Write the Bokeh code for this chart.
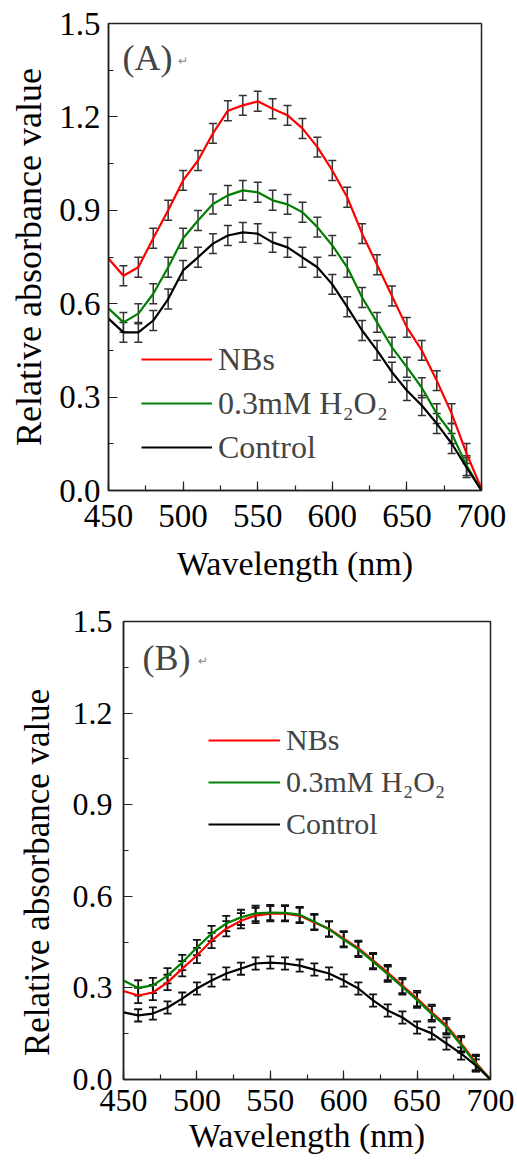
from bokeh.plotting import figure
from bokeh.models import (ColumnDataSource, Whisker, TeeHead, Label, Legend, LegendItem,
                          SingleIntervalTicker, PrintfTickFormatter)
from bokeh.embed import file_html
from bokeh.resources import INLINE

FONT = "Liberation Serif"

# ---------------- data ----------------
wavelength = [450, 460, 470, 480, 490, 500, 510, 520, 530, 540, 550, 560, 570,
              580, 590, 600, 610, 620, 630, 640, 650, 660, 670, 680, 690, 700]
err_wavelength = [460, 470, 480, 490, 500, 510, 520, 530, 540, 550, 560, 570, 580,
                  590, 600, 610, 620, 630, 640, 650, 660, 670, 680, 690]

# Panel A
a_nbs = [0.745, 0.690, 0.717, 0.810, 0.900, 0.996, 1.060, 1.147, 1.220, 1.237, 1.250, 1.226, 1.205,
         1.163, 1.103, 1.028, 0.942, 0.825, 0.725, 0.625, 0.524, 0.450, 0.353, 0.247, 0.119, 0.005]
a_h2o2 = [0.585, 0.540, 0.568, 0.632, 0.717, 0.810, 0.867, 0.920, 0.948, 0.964, 0.958, 0.932, 0.919,
          0.894, 0.846, 0.787, 0.717, 0.620, 0.540, 0.460, 0.396, 0.330, 0.247, 0.183, 0.080, 0.000]
a_ctrl = [0.552, 0.508, 0.508, 0.546, 0.615, 0.707, 0.749, 0.793, 0.819, 0.829, 0.825, 0.797, 0.781,
          0.749, 0.717, 0.662, 0.590, 0.514, 0.450, 0.380, 0.321, 0.273, 0.215, 0.151, 0.074, 0.000]
a_err = [0.032, 0.032, 0.032, 0.032, 0.032, 0.032, 0.032, 0.032, 0.032, 0.032, 0.032, 0.032,
         0.032, 0.032, 0.032, 0.032, 0.032, 0.032, 0.032, 0.032, 0.032, 0.032, 0.032, 0.032]

# Panel B
b_nbs = [0.290, 0.275, 0.285, 0.318, 0.363, 0.406, 0.455, 0.494, 0.520, 0.537, 0.543, 0.543, 0.537,
         0.514, 0.494, 0.461, 0.430, 0.390, 0.350, 0.308, 0.265, 0.220, 0.177, 0.118, 0.056, 0.000]
b_h2o2 = [0.324, 0.300, 0.308, 0.340, 0.383, 0.432, 0.478, 0.511, 0.531, 0.544, 0.547, 0.546, 0.540,
          0.517, 0.492, 0.458, 0.426, 0.386, 0.345, 0.303, 0.260, 0.215, 0.172, 0.113, 0.052, 0.000]
b_ctrl = [0.220, 0.210, 0.216, 0.236, 0.265, 0.298, 0.324, 0.347, 0.363, 0.380, 0.383, 0.380, 0.373,
          0.360, 0.347, 0.324, 0.298, 0.259, 0.226, 0.203, 0.170, 0.151, 0.118, 0.085, 0.046, 0.000]
b_err_treated = [0.025, 0.025, 0.025, 0.025, 0.025, 0.025, 0.025, 0.025, 0.025, 0.025, 0.025, 0.025,
                 0.025, 0.025, 0.025, 0.025, 0.025, 0.025, 0.025, 0.025, 0.025, 0.025, 0.025, 0.025]
b_err_ctrl = [0.020, 0.020, 0.020, 0.020, 0.020, 0.020, 0.020, 0.020, 0.020, 0.020, 0.020, 0.020,
              0.020, 0.020, 0.020, 0.020, 0.020, 0.020, 0.020, 0.020, 0.020, 0.020, 0.020, 0.020]

series_labels = ["NBs", "0.3mM H\u2082O\u2082", "Control"]
series_colors = ["#ff0000", "#008000", "#000000"]
x_title = "Wavelength (nm)"
y_title = "Relative absorbance value"


def add_errorbars(p, ys, errs, color, width):
    lookup = dict(zip(wavelength, ys))
    centers = [lookup[w] for w in err_wavelength]
    src = ColumnDataSource(dict(x=err_wavelength,
                                upper=[c + e for c, e in zip(centers, errs)],
                                lower=[c - e for c, e in zip(centers, errs)]))
    w = Whisker(base="x", upper="upper", lower="lower", source=src,
                line_color=color, line_width=width,
                upper_head=TeeHead(size=8, line_color=color, line_width=width),
                lower_head=TeeHead(size=8, line_color=color, line_width=width))
    p.add_layout(w)


def make_panel(width, height, bl, br, bt, bb, series, errs, tag, tick_size,
               x_stand, y_stand, xlab_stand, ylab_stand, ylab_text,
               legend_loc, legend_font, legend_row, glyph_w,
               tag_pos, lab_size, ylab_size, bar_color, bar_width):
    p = figure(width=width, height=height, x_range=(450, 700), y_range=(0, 1.5),
               output_backend="svg", toolbar_location=None,
               min_border_left=bl, min_border_right=br, min_border_top=bt, min_border_bottom=bb)
    p.grid.visible = False
    p.outline_line_color = "#222222"
    p.outline_line_width = 1.5
    p.background_fill_color = "white"
    p.border_fill_color = "white"

    p.xaxis.ticker = SingleIntervalTicker(interval=50, num_minor_ticks=2)
    p.yaxis.ticker = SingleIntervalTicker(interval=0.3, num_minor_ticks=2)
    p.yaxis.formatter = PrintfTickFormatter(format="%.1f")
    for ax in (p.xaxis, p.yaxis):
        ax.axis_line_color = "#222222"
        ax.axis_line_width = 1.5
        ax.major_tick_in = 9
        ax.major_tick_out = 0
        ax.minor_tick_in = 5
        ax.minor_tick_out = 0
        ax.major_tick_line_color = "#222222"
        ax.minor_tick_line_color = "#222222"
        ax.major_tick_line_width = 1.2
        ax.minor_tick_line_width = 1.2
        ax.major_label_text_font = FONT
        ax.major_label_text_font_size = tick_size
        ax.major_label_text_color = "black"
        ax.axis_label_text_font = FONT
        ax.axis_label_text_font_style = "normal"
        ax.axis_label_text_color = "black"
    p.xaxis.axis_label = x_title
    p.yaxis.axis_label = ylab_text
    p.xaxis.axis_label_text_font_size = lab_size
    p.yaxis.axis_label_text_font_size = ylab_size
    p.xaxis.major_label_standoff = x_stand
    p.yaxis.major_label_standoff = y_stand
    p.xaxis.axis_label_standoff = xlab_stand
    p.yaxis.axis_label_standoff = ylab_stand

    renderers = []
    for ys, color in zip(series, series_colors):
        r = p.line(wavelength, ys, line_color=color, line_width=2.2)
        renderers.append(r)
    for ys, e in zip(series, errs):
        add_errorbars(p, ys, e, bar_color, bar_width)

    legend = Legend(items=[LegendItem(label=l, renderers=[r]) for l, r in zip(series_labels, renderers)],
                    location=legend_loc, glyph_width=glyph_w, glyph_height=legend_row,
                    label_height=legend_row, label_standoff=6, spacing=4, padding=0, margin=0,
                    border_line_alpha=0, background_fill_alpha=0,
                    label_text_font=FONT, label_text_font_size=legend_font)
    p.add_layout(legend)

    p.add_layout(Label(x=tag_pos[0], y=tag_pos[1], x_units="screen", y_units="screen",
                       text=tag, text_font=FONT, text_font_size="36px",
                       text_baseline="middle", text_align="left"))
    p.add_layout(Label(x=tag_pos[0] + 55, y=tag_pos[1] - 3, x_units="screen", y_units="screen",
                       text="\u21b5", text_font_size="12px", text_color="#888888",
                       text_baseline="middle", text_align="left"))
    return p


pA = make_panel(517, 600, 108, 36, 23, 110, [a_nbs, a_h2o2, a_ctrl], [a_err, a_err, a_err],
                "(A)", "33px", 14, 8, 15, 7, y_title,
                (33, 23), "32px", 40, 71,
                (14, 433), "34px", "36px", "#333333", 1.5)
pB = make_panel(517, 567, 123, 27, 21, 88, [b_nbs, b_h2o2, b_ctrl],
                [b_err_treated, b_err_treated, b_err_ctrl],
                "(B)", "32px", 10, 11, 3, 13, y_title + "\u00a0" * 5,
                (85, 236), "30px", 38, 72,
                (19, 422), "34px", "35px", "#111111", 1.8)

open("out.html", "w").write(file_html([pA, pB], INLINE))
